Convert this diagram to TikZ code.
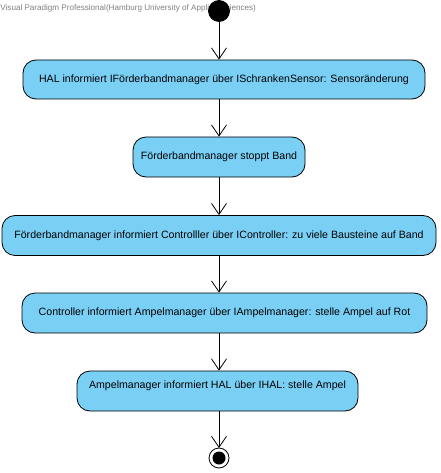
\documentclass[tikz,border=0pt]{standalone}
\usepackage{fontspec}
\setmainfont{Liberation Sans}
\usetikzlibrary{arrows.meta}
\definecolor{actblue}{RGB}{122,207,245}

\begin{document}
\begin{tikzpicture}[x=1pt,y=-1pt,line width=0.8pt,
	act/.style={draw,fill=actblue,rounded corners=13pt,minimum height=40pt,inner sep=0,align=center,font=\fontsize{10.6}{12}\selectfont},
	flow/.style={-{Straight Barb[length=11pt,width=15pt,line width=0.8pt]}}]
	\useasboundingbox (0,0) rectangle (440,473);
	\node[anchor=west,text=gray,inner sep=0,font=\fontsize{8.1}{9}\selectfont] (wm) at (0,8) {Visual Paradigm Professional(Hamburg University of Applied Sciences)};
	\node[draw,circle,fill=black,inner sep=0,outer sep=0,minimum size=21pt] (start) at (219,11) {};
	\node[act,minimum width=402pt,minimum height=39pt] (1) at (224,79.5) {HAL informiert IFörderbandmanager über ISchrankenSensor: Sensoränderung};
	\node[act,minimum width=172pt] (2) at (219,157) {Förderbandmanager stoppt Band};
	\node[act,minimum width=434pt] (3) at (219,235.5) {Förderbandmanager informiert Controlller über IController: zu viele Bausteine auf Band};
	\node[act,minimum width=405pt] (4) at (224.5,313) {Controller informiert Ampelmanager über IAmpelmanager: stelle Ampel auf Rot};
	\node[act,minimum width=281pt] (5) at (217.5,391) {Ampelmanager informiert HAL über IHAL: stelle Ampel\\\mbox{}};
	\node[draw,circle,fill=white,inner sep=0,outer sep=0,minimum size=20pt] (fin) at (219,458) {};
	\node[circle,fill=black,inner sep=0,minimum size=13pt] (finin) at (fin) {};
	\draw[flow] (start) -- (start |- 1.north);
	\draw[flow] (start |- 1.south) -- (2);
	\draw[flow] (2) -- (2 |- 3.north);
	\draw[flow] (2 |- 3.south) -- (2 |- 4.north);
	\draw[flow] (2 |- 4.south) -- (2 |- 5.north);
	\draw[flow] (2 |- 5.south) -- (fin);
\end{tikzpicture}
\end{document}
